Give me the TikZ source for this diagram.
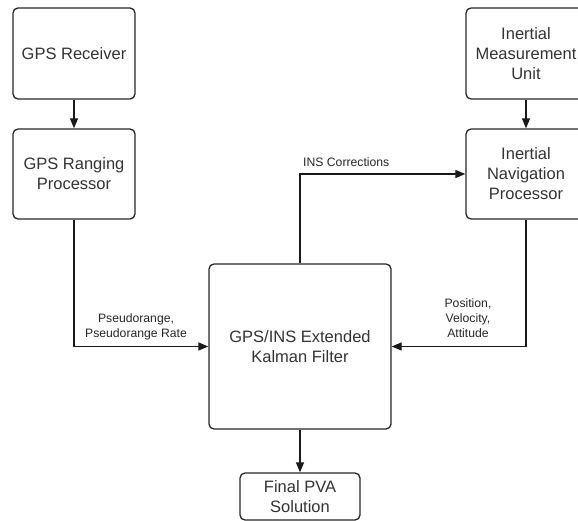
\documentclass[tikz,border=0pt]{standalone}
\usepackage{fontspec}
\setmainfont{Liberation Sans}
\usetikzlibrary{arrows.meta}
\begin{document}
\begin{tikzpicture}[x=1pt,y=-1pt,
  blk/.style={draw=black!85, line width=1.3pt, rounded corners=5pt, align=center,
    font=\fontsize{16.5}{20}\selectfont, text=black!80, inner sep=0pt},
  flow/.style={draw=black!90, line width=1.3pt, -{Triangle[length=10pt,width=8pt]}},
  lbl/.style={align=center, font=\fontsize{12.2}{15}\selectfont, text=black!85, inner sep=0pt}]
\useasboundingbox (0,0) rectangle (578,521);

% blocks
\node[blk, minimum width=122pt, minimum height=91pt] (rx) at (74,53.5) {GPS Receiver};
\node[blk, minimum width=122pt, minimum height=90pt] (grp) at (74,174) {GPS Ranging\\Processor};
\node[blk, minimum width=120pt, minimum height=91pt] (imu) at (526,53.5) {Inertial\\Measurement\\Unit};
\node[blk, minimum width=120pt, minimum height=90pt] (inp) at (526,174) {Inertial\\Navigation\\Processor};
\node[blk, minimum width=182pt, minimum height=165pt] (kf) at (300,346.5) {GPS/INS Extended\\Kalman Filter};
\node[blk, minimum width=120pt, minimum height=47pt] (pva) at (300,496.5) {Final PVA\\Solution};

% connectors
\draw[flow] (rx) -- (grp);
\draw[flow] (imu) -- (inp);
\draw[flow] (grp.south) |- (kf.west);
\draw[flow] (inp.south) |- (kf.east);
\draw[flow] (kf.north) |- (inp.west);
\draw[flow] (kf) -- (pva);

% connector labels
\node[lbl] (lpr) at (136,327) {Pseudorange,\\Pseudorange Rate};
\node[lbl] (lpva) at (468,318) {Position,\\Velocity,\\Attitude};
\node[lbl, anchor=west] (lins) at (303,162) {INS Corrections};
\end{tikzpicture}
\end{document}
